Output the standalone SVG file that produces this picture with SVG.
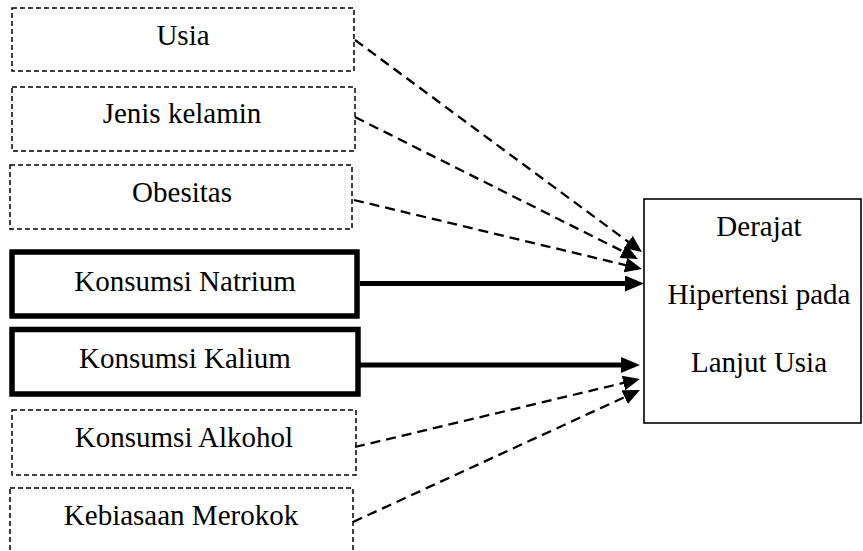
<svg xmlns="http://www.w3.org/2000/svg" width="863" height="551" viewBox="0 0 863 551">
<defs>
<style>
.t{font-family:"Liberation Serif","Times New Roman",serif;font-size:29px;fill:#000;text-anchor:middle}
.dbox{fill:#fff;stroke:#000;stroke-width:1.5;stroke-dasharray:5 3}
.tbox{fill:#fff;stroke:#000;stroke-width:5.5}
.box{fill:#fff;stroke:#000;stroke-width:1.6}
.dl{fill:none;stroke:#000;stroke-width:2.3;stroke-dasharray:10 6}
.sl{fill:none;stroke:#000;stroke-width:5}
</style>
<marker id="ad" markerUnits="userSpaceOnUse" markerWidth="19" markerHeight="16" refX="1" refY="7.5" orient="auto" viewBox="0 0 19 16">
<path d="M0,0 L17,7.5 L0,15 z" fill="#000"/>
</marker>
<marker id="as" markerUnits="userSpaceOnUse" markerWidth="21" markerHeight="18" refX="1" refY="8" orient="auto" viewBox="0 0 21 18">
<path d="M0,0 L19,8 L0,16 z" fill="#000"/>
</marker>
</defs>
<rect width="863" height="551" fill="#fff"/>
<g id="n-usia"><rect class="dbox" x="12" y="8" width="342" height="63"/><text class="t" x="183" y="45">Usia</text></g>
<g id="n-jenis"><rect class="dbox" x="12" y="87" width="343" height="64"/><text class="t" x="182" y="123">Jenis kelamin</text></g>
<g id="n-obesitas"><rect class="dbox" x="10" y="165" width="342" height="64"/><text class="t" x="182" y="202">Obesitas</text></g>
<g id="n-natrium"><rect class="tbox" x="12" y="252" width="345" height="64"/><text class="t" x="185" y="291">Konsumsi Natrium</text></g>
<g id="n-kalium"><rect class="tbox" x="12" y="329.5" width="346" height="64.5"/><text class="t" x="185" y="368">Konsumsi Kalium</text></g>
<g id="n-alkohol"><rect class="dbox" x="12" y="410" width="344" height="65"/><text class="t" x="184" y="447">Konsumsi Alkohol</text></g>
<g id="n-merokok"><rect class="dbox" x="10" y="488" width="343" height="80"/><text class="t" x="181" y="525">Kebiasaan Merokok</text></g>
<g id="n-derajat"><rect class="box" x="644" y="199" width="217" height="224"/>
<text class="t" x="759" y="236">Derajat</text>
<text class="t" x="759" y="304">Hipertensi pada</text>
<text class="t" x="759" y="372">Lanjut Usia</text></g>
<g id="connectors">
<line class="dl" x1="355" y1="40" x2="629.1" y2="242.5" marker-end="url(#ad)"/>
<line class="dl" x1="355" y1="117" x2="623.7" y2="251.8" marker-end="url(#ad)"/>
<line class="dl" x1="354" y1="200" x2="626.4" y2="265.3" marker-end="url(#ad)"/>
<line class="sl" x1="360" y1="283.5" x2="626" y2="283.5" marker-end="url(#as)"/>
<line class="sl" x1="360" y1="365" x2="622" y2="365" marker-end="url(#as)"/>
<line class="dl" x1="355" y1="447" x2="624.4" y2="382.7" marker-end="url(#ad)"/>
<line class="dl" x1="353" y1="522" x2="625.5" y2="396.7" marker-end="url(#ad)"/>
</g>
</svg>
